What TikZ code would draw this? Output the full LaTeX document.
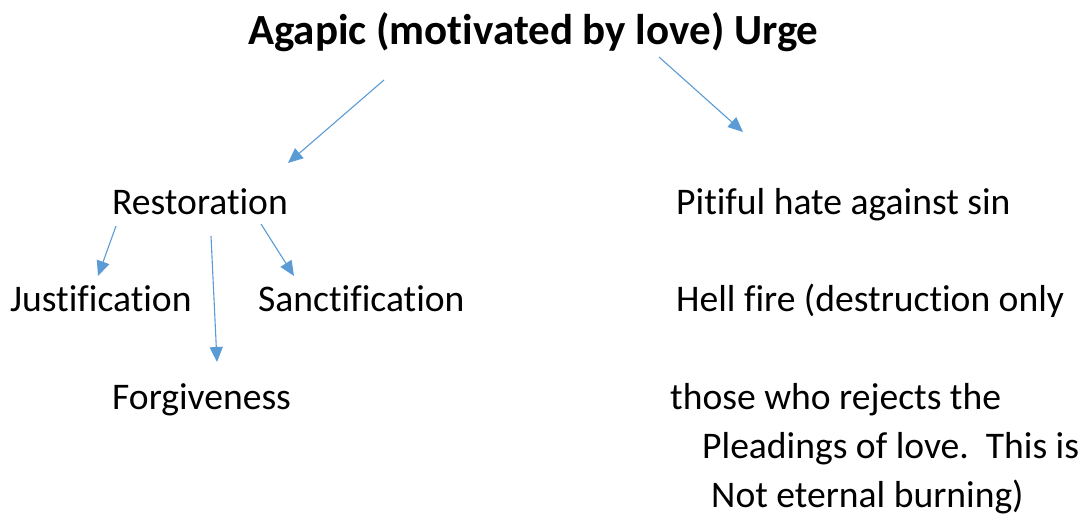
\documentclass[tikz,border=0pt]{standalone}
\usepackage{fontspec}
\setmainfont{Carlito}[Ligatures=NoCommon]
\usetikzlibrary{arrows.meta}

\definecolor{arrblue}{RGB}{91,155,213}

\tikzset{
    lbl/.style={anchor=base west, inner sep=0pt, font=\fontsize{37.6}{44}\selectfont},
    arr/.style={draw=arrblue, line width=1.1pt, -{Triangle[length=15pt, width=13pt]}}
}

\begin{document}
\begin{tikzpicture}[x=1pt, y=-1pt]
        \useasboundingbox (0,0) rectangle (1086,515);

        % Title
        \node[lbl, font=\fontsize{43}{50}\selectfont\bfseries] (title) at (248,44) {Agapic (motivated by love) Urge};

        % Left branch
        \node[lbl] (rest) at (112,214) {Restoration};
        \node[lbl] (just) at (10,311) {Justification};
        \node[lbl] (sanct) at (258,311) {Sanctification};
        \node[lbl] (forg) at (112,409) {Forgiveness};

        % Right branch
        \node[lbl] (hate) at (676,214) {Pitiful hate against sin};
        \node[lbl] (hell) at (676,311) {Hell fire (destruction only};
        \node[lbl] (rej1) at (670,409) {those who rejects the};
        \node[lbl] (rej2) at (702,458) {Pleadings of love.\ \ This is};
        \node[lbl] (rej3) at (711,507) {Not eternal burning)};

        % Arrow ends
        \coordinate (t1) at (384,80);
        \coordinate (t2) at (659,57);
        \coordinate (r1) at (288,163);
        \coordinate (p1) at (743,132);
        \coordinate (rs1) at (116,226);
        \coordinate (rs2) at (211,236);
        \coordinate (rs3) at (261,224);
        \coordinate (j1) at (98,276);
        \coordinate (f1) at (217,362);
        \coordinate (s1) at (294,276);

        % Arrows
        \draw[arr] (t1) -- (r1);
        \draw[arr] (t2) -- (p1);
        \draw[arr] (rs1) -- (j1);
        \draw[arr] (rs2) -- (f1);
        \draw[arr] (rs3) -- (s1);
\end{tikzpicture}
\end{document}
